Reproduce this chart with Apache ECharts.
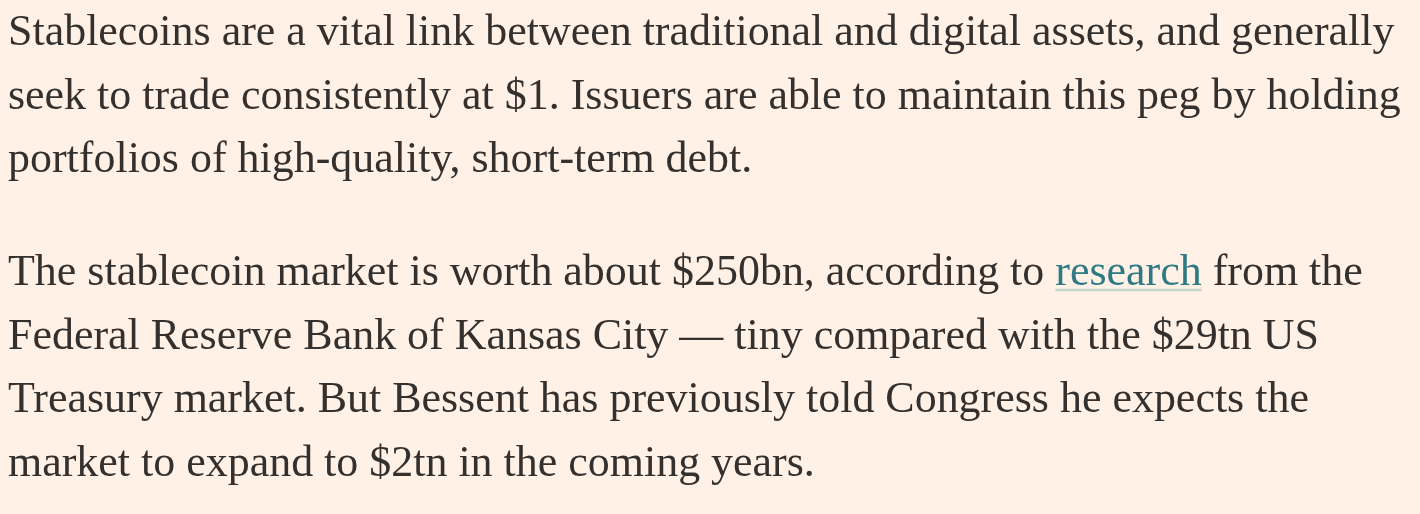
<!DOCTYPE html>
<html>
<head>
<meta charset="utf-8">
<script src="https://cdn.jsdelivr.net/npm/echarts@6/dist/echarts.min.js"></script>
<style>
html,body{margin:0;padding:0;background:#FFF1E5;}
#chart{width:1420px;height:514px;}
</style>
</head>
<body>
<div id="chart"></div>
<script>
// Text content (each entry is one rendered line)
const paragraph1 = [
  "Stablecoins are a vital link between traditional and digital assets, and generally",
  "seek to trade consistently at $1. Issuers are able to maintain this peg by holding",
  "portfolios of high-quality, short-term debt."
];
const paragraph2 = [
  "The stablecoin market is worth about $250bn, according to [research] from the",
  "Federal Reserve Bank of Kansas City \u2014 tiny compared with the $29tn US",
  "Treasury market. But Bessent has previously told Congress he expects the",
  "market to expand to $2tn in the coming years."
];

const FONT_FAMILY = '"Liberation Serif", "DejaVu Serif", serif';
const TEXT_COLOR = '#33302E';
const LINK_COLOR = '#2E7A84';
const UNDERLINE_COLOR = '#C6D5D0';
const LEFT = 8;
const TARGET_WIDTH = 1387; // width of first line in reference
const LINE_STEP = 63.5;
const PARA1_BASE = 46;
const PARA2_BASE = 286;

const canvas = document.createElement('canvas');
const ctx = canvas.getContext('2d');
function measure(text, size) {
  ctx.font = size + 'px ' + FONT_FAMILY;
  return ctx.measureText(text).width;
}
let fontSize = 40;
fontSize = fontSize * TARGET_WIDTH / measure(paragraph1[0], fontSize);

const chart = echarts.init(document.getElementById('chart'));
const elements = [];

function addLine(line, baseline) {
  const parts = line.split(/(\[[^\]]+\])/).filter(p => p.length);
  let x = LEFT;
  parts.forEach(p => {
    const isLink = p.startsWith('[');
    const txt = isLink ? p.slice(1, -1) : p;
    const w = measure(txt, fontSize);
    elements.push({
      type: 'text',
      x: x, y: baseline,
      style: {
        text: txt,
        fontSize: fontSize,
        fontFamily: FONT_FAMILY,
        fill: isLink ? LINK_COLOR : TEXT_COLOR,
        align: 'left',
        verticalAlign: 'bottom'
      },
      silent: true
    });
    if (isLink) {
      elements.push({
        type: 'line',
        shape: { x1: x, y1: baseline - DESC + 4, x2: x + w, y2: baseline - DESC + 4 },
        style: { stroke: UNDERLINE_COLOR, lineWidth: 2.5 },
        silent: true
      });
    }
    x += w;
  });
}

const DESC = fontSize * 0.22;
paragraph1.forEach((l, i) => addLine(l, PARA1_BASE + i * LINE_STEP + DESC));
paragraph2.forEach((l, i) => addLine(l, PARA2_BASE + i * LINE_STEP + DESC));

chart.setOption({
  backgroundColor: '#FFF1E5',
  animation: false,
  graphic: { elements: elements }
});
</script>
</body>
</html>
